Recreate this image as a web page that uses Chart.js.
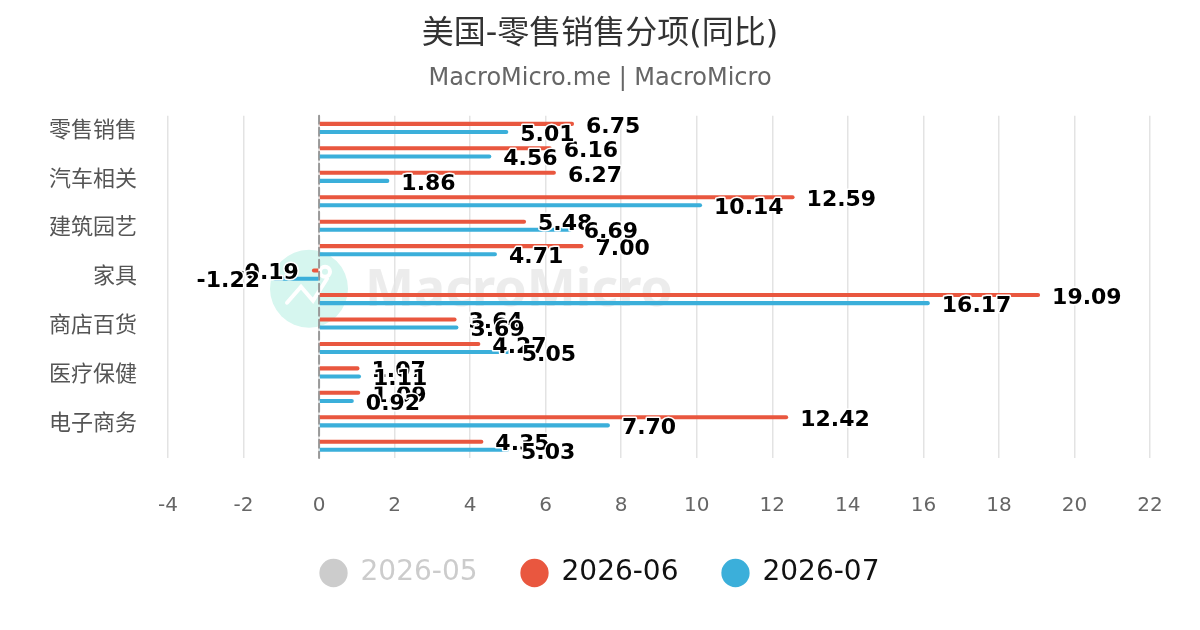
<!DOCTYPE html>
<html>
<head>
<meta charset="utf-8">
<script src="https://cdn.jsdelivr.net/npm/chart.js@4"></script>
<style>
  html, body { margin: 0; padding: 0; background: #fff; }
  #wrap { width: 1200px; height: 630px; }
</style>
</head>
<body>
<div id="wrap"><canvas id="myChart" width="1200" height="630"></canvas></div>
<script>
// categories (only every other one is labelled on the axis)
const categories = ['零售销售', '核心零售', '汽车相关', '加油站', '建筑园艺', '食品饮料', '家具',
  '电子电器', '商店百货', '服饰', '医疗保健', '运动休闲', '电子商务', '餐饮'];
const seriesNames = ['2026-05', '2026-06', '2026-07'];
// 2026-05 is switched off in the reference, so its values cannot be read
const may = [];
const june = [6.75, 6.16, 6.27, 12.59, 5.48, 7.00, -0.19, 19.09, 3.64, 4.27, 1.07, 1.09, 12.42, 4.35];
const july = [5.01, 4.56, 1.86, 10.14, 6.69, 4.71, -1.22, 16.17, 3.69, 5.05, 1.11, 0.92, 7.70, 5.03];
const xMin = -4, xMax = 22, xStep = 2;

const FONT = "'DejaVu Sans', 'Noto Sans CJK SC', sans-serif";

// watermark + dashed zero line under the bars
const backdrop = {
  id: 'backdrop',
  beforeDatasetsDraw(chart) {
    const ctx = chart.ctx;
    const area = chart.chartArea;
    const x0 = chart.scales.x.getPixelForValue(0);
    ctx.save();
    // logo
    const cx = area.left + 141, cy = area.top + 173;
    ctx.fillStyle = '#d6f6ef';
    ctx.beginPath();
    ctx.arc(cx, cy, 39, 0, Math.PI * 2);
    ctx.fill();
    ctx.strokeStyle = '#fff';
    ctx.lineWidth = 4;
    ctx.lineCap = 'round';
    ctx.beginPath();
    ctx.moveTo(cx - 22, cy + 14);
    ctx.lineTo(cx - 8, cy - 2);
    ctx.lineTo(cx + 4, cy + 12);
    ctx.lineTo(cx + 18, cy - 10);
    ctx.stroke();
    ctx.beginPath();
    ctx.arc(cx + 16, cy - 17, 5, 0, Math.PI * 2);
    ctx.stroke();
    ctx.font = "bold 52px 'Noto Sans', sans-serif";
    ctx.fillStyle = 'rgba(228,228,228,0.7)';
    ctx.textBaseline = 'middle';
    ctx.fillText('MacroMicro', cx + 56, cy + 2);
    // zero line
    ctx.strokeStyle = '#999';
    ctx.lineWidth = 2;
    ctx.setLineDash([8, 4]);
    ctx.beginPath();
    ctx.moveTo(x0, area.top);
    ctx.lineTo(x0, area.bottom);
    ctx.stroke();
    ctx.restore();
  }
};

// value labels at the end of each bar
const valueLabels = {
  id: 'valueLabels',
  afterDatasetsDraw(chart) {
    const ctx = chart.ctx;
    ctx.save();
    ctx.font = 'bold 22px ' + FONT;
    ctx.textBaseline = 'middle';
    ctx.lineWidth = 3;
    ctx.lineJoin = 'round';
    ctx.strokeStyle = '#fff';
    ctx.fillStyle = '#000';
    chart.data.datasets.forEach((ds, i) => {
      if (!chart.isDatasetVisible(i)) return;
      chart.getDatasetMeta(i).data.forEach((bar, j) => {
        const v = ds.data[j];
        if (v == null) return;
        const neg = v < 0;
        const txt = v.toFixed(2);
        const x = bar.x + (neg ? -13 : 12);
        const y = bar.y + 3;
        ctx.textAlign = neg ? 'right' : 'left';
        ctx.strokeText(txt, x, y);
        ctx.fillText(txt, x, y);
      });
    });
    ctx.restore();
  }
};

const ctx = document.getElementById('myChart');

const chart = new Chart(ctx, {
  type: 'bar',
  data: {
    labels: categories,
    datasets: [
      { label: seriesNames[0], data: may, backgroundColor: '#cccccc', hidden: true },
      { label: seriesNames[1], data: june, backgroundColor: '#e9573f' },
      { label: seriesNames[2], data: july, backgroundColor: '#3bafda' }
    ]
  },
  options: {
    indexAxis: 'y',
    responsive: false,
    animation: false,
    devicePixelRatio: 1,
    categoryPercentage: 0.66,
    barPercentage: 0.5,
    layout: { padding: { left: 50, right: 50, top: 0, bottom: 33 } },
    datasets: {
      bar: { borderRadius: 2, borderSkipped: 'start' }
    },
    scales: {
      x: {
        min: xMin,
        max: xMax,
        ticks: {
          stepSize: xStep,
          padding: 36,
          color: '#666',
          font: { family: FONT, size: 20 }
        },
        grid: { color: '#e3e3e3', lineWidth: 1.5, drawTicks: false },
        border: { display: false },
        afterFit(scale) { scale.height -= 39; }
      },
      y: {
        ticks: {
          autoSkip: false,
          padding: 31,
          labelOffset: 3,
          color: '#555',
          font: { family: FONT, size: 22 },
          callback: function (value, index) {
            return index % 2 === 0 ? this.getLabelForValue(value) : '';
          }
        },
        grid: { display: false, drawTicks: false },
        border: { display: false },
        afterFit(scale) { scale.width -= 32; }
      }
    },
    plugins: {
      title: {
        display: true,
        text: '美国-零售销售分项(同比)',
        color: '#333',
        font: { family: FONT, size: 32, weight: 'normal' },
        padding: { top: 15, bottom: 6 }
      },
      subtitle: {
        display: true,
        text: 'MacroMicro.me | MacroMicro',
        color: '#666',
        font: { family: FONT, size: 24 },
        padding: { top: 5, bottom: 22.5 }
      },
      legend: {
        position: 'bottom',
        labels: {
          usePointStyle: true,
          pointStyle: 'circle',
          boxWidth: 26,
          boxHeight: 20,
          padding: 44,
          color: '#111',
          font: { family: FONT, size: 28 },
          generateLabels(chart) {
            const items = Chart.defaults.plugins.legend.labels.generateLabels(chart);
            items.forEach(item => {
              if (item.hidden) {
                item.hidden = false;
                item.fillStyle = '#cccccc';
                item.strokeStyle = '#cccccc';
                item.fontColor = '#cccccc';
              }
            });
            return items;
          }
        }
      },
      tooltip: { enabled: false }
    }
  },
  plugins: [backdrop, valueLabels]
});
</script>
</body>
</html>
